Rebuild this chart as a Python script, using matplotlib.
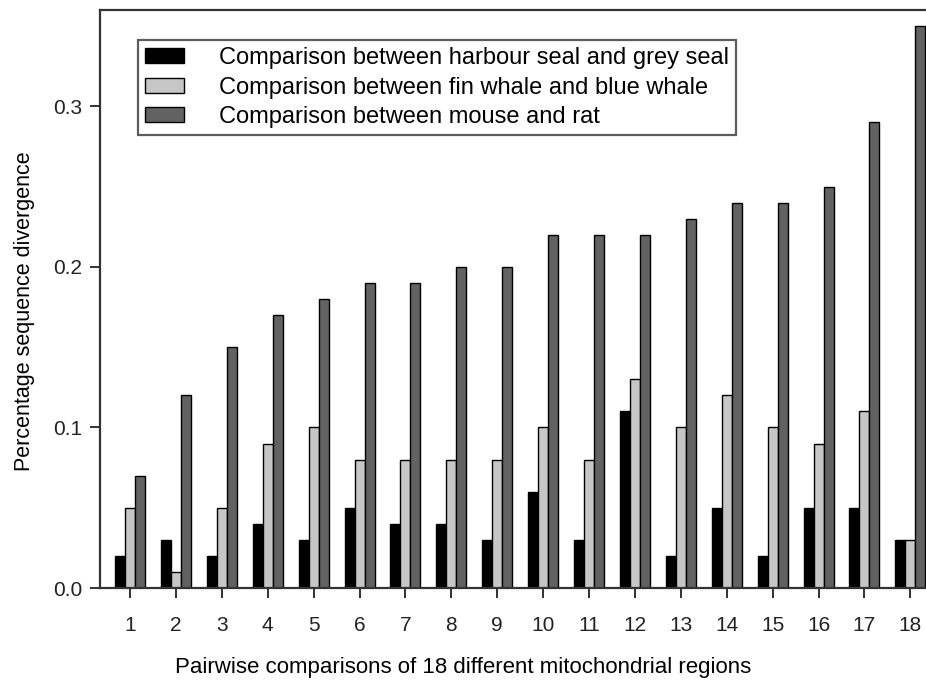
import matplotlib.pyplot as plt
import numpy as np

plt.rcParams["font.family"] = ["Liberation Sans", "DejaVu Sans"]

regions = [str(i) for i in range(1, 19)]
seal = [0.02, 0.03, 0.02, 0.04, 0.03, 0.05, 0.04, 0.04, 0.03,
        0.06, 0.03, 0.11, 0.02, 0.05, 0.02, 0.05, 0.05, 0.03]
whale = [0.05, 0.01, 0.05, 0.09, 0.10, 0.08, 0.08, 0.08, 0.08,
         0.10, 0.08, 0.13, 0.10, 0.12, 0.10, 0.09, 0.11, 0.03]
rodent = [0.07, 0.12, 0.15, 0.17, 0.18, 0.19, 0.19, 0.20, 0.20,
          0.22, 0.22, 0.22, 0.23, 0.24, 0.24, 0.25, 0.29, 0.35]
series_labels = ["Comparison between harbour seal and grey seal",
                 "Comparison between fin whale and blue whale",
                 "Comparison between mouse and rat"]

x = np.arange(1, len(regions) + 1)
w = 0.218

fig = plt.figure(figsize=(9.26, 6.81), dpi=100)
# axes run past the right edge, as in the cropped original
ax = fig.add_axes([100 / 926, 93 / 681, 853 / 926, 578 / 681])

colors = ["#000000", "#c6c6c6", "#626262"]
for i, (vals, col, lab) in enumerate(zip([seal, whale, rodent], colors, series_labels)):
    ax.bar(x + (i - 1) * w, vals, w, color=col, edgecolor="black", linewidth=1.0, label=lab)

ax.set_xlim(0.346, 0.346 + 853 / 45.9)
ax.set_ylim(0, 0.36)
ax.set_xticks(x)
ax.set_xticklabels(regions)
ax.set_yticks([0.0, 0.1, 0.2, 0.3])
ax.set_yticklabels(["0.0", "0.1", "0.2", "0.3"])
ax.tick_params(labelsize=15, length=7, width=1.3, direction="out", colors="#222222", pad=6)
ax.tick_params(axis="x", pad=13)
for s in ax.spines.values():
    s.set_linewidth(1.6)
    s.set_color("#333333")

ax.set_xlabel("Pairwise comparisons of 18 different mitochondrial regions", fontsize=16)
ax.xaxis.set_label_coords(0.4256, -0.12)
ax.set_ylabel("Percentage sequence divergence", fontsize=15.5)
ax.yaxis.set_label_coords(-0.0762, 0.479)

leg = ax.legend(loc="upper left", bbox_to_anchor=(38 / 853, 1 - 30 / 578), fontsize=17,
                frameon=True, fancybox=False, edgecolor="#333333", borderaxespad=0,
                handlelength=1.65, handleheight=0.6, handletextpad=1.48,
                labelspacing=0.32, borderpad=0.3)
leg.get_frame().set_linewidth(1.6)

plt.savefig("out.png", dpi=100)
